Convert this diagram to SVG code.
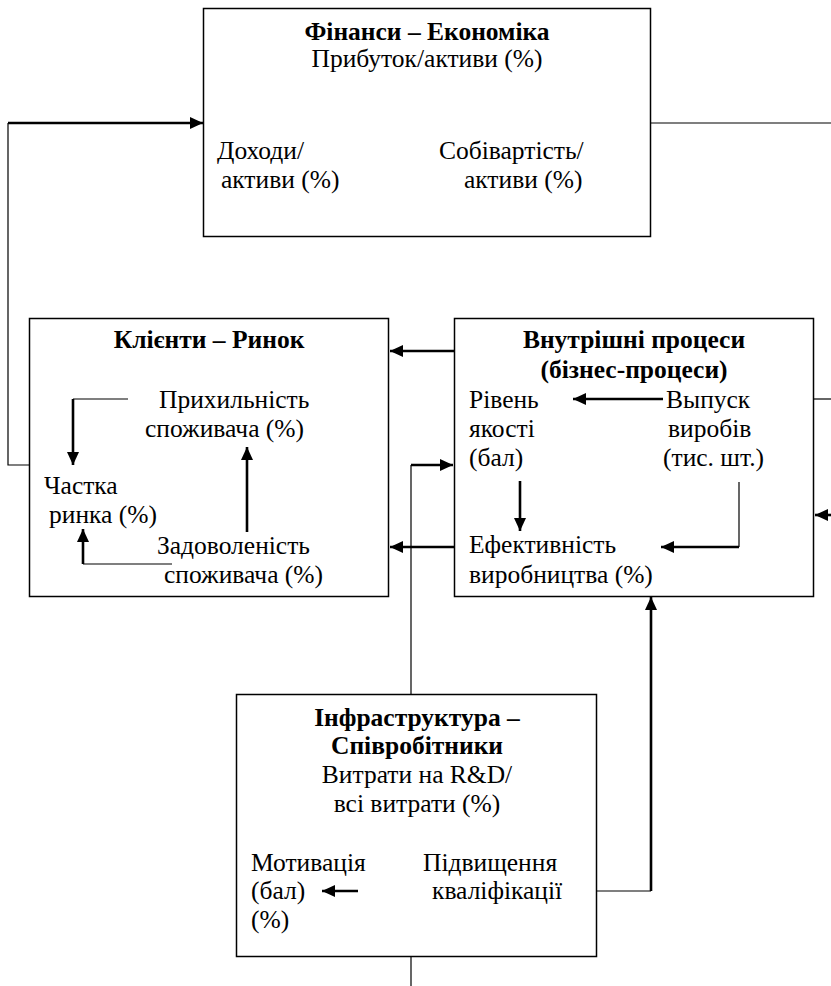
<svg xmlns="http://www.w3.org/2000/svg" width="831" height="986" viewBox="0 0 831 986">
  <style>
    .box { fill: #ffffff; stroke: #000000; stroke-width: 1.5; }
    .t { font-family: "Liberation Serif", "Times New Roman", serif; font-size: 25.5px; fill: #000000; }
    .b { font-weight: bold; }
    .c { text-anchor: middle; }
    .thin { fill: none; stroke: #000000; stroke-width: 1.2; }
    .thick { fill: none; stroke: #000000; stroke-width: 2.6; }
    .arr { marker-end: url(#head); }
  </style>
  <defs>
    <marker id="head" markerUnits="userSpaceOnUse" markerWidth="14" markerHeight="12" refX="13" refY="6" orient="auto">
      <path d="M0,0 L13,6 L0,12 Z" fill="#000000"/>
    </marker>
  </defs>
  <rect width="831" height="986" fill="#ffffff"/>

  <!-- connectors between the blocks -->
  <g id="connectors">
    <path class="thin" d="M29,465 H8 V123"/>
    <path class="thick arr" d="M8,123 H203"/>
    <path class="thin" d="M651,123 H831"/>
    <path class="thin" d="M814,399 H831"/>
    <path class="thick arr" d="M831,515 H815"/>
    <path class="thick arr" d="M454,351 H390"/>
    <path class="thick arr" d="M454,547 H390"/>
    <path class="thin" d="M411,694 V465"/>
    <path class="thick arr" d="M411,465 H453"/>
    <path class="thin" d="M411,956 V986"/>
    <path class="thin" d="M597,891 H651"/>
    <path class="thick arr" d="M651,891 V597"/>
  </g>

  <!-- finance block -->
  <g id="finance">
    <rect class="box" x="203.5" y="8.5" width="447" height="228"/>
    <text class="t b c" x="427" y="40">Фінанси – Економіка</text>
    <text class="t c" x="427" y="67">Прибуток/активи (%)</text>
    <text class="t" x="217" y="159">Доходи/</text>
    <text class="t" x="221" y="188">активи (%)</text>
    <text class="t" x="439" y="159">Собівартість/</text>
    <text class="t" x="464" y="188">активи (%)</text>
  </g>

  <!-- customers block -->
  <g id="customers">
    <rect class="box" x="29.5" y="318.5" width="359" height="278"/>
    <text class="t b c" x="209" y="348">Клієнти – Ринок</text>
    <text class="t" x="159" y="408">Прихильність</text>
    <text class="t" x="145" y="437">споживача (%)</text>
    <text class="t" x="44" y="494">Частка</text>
    <text class="t" x="49" y="523">ринка (%)</text>
    <text class="t" x="157" y="554">Задоволеність</text>
    <text class="t" x="164" y="583">споживача (%)</text>
    <path class="thin" d="M128,399 H73"/>
    <path class="thick arr" d="M73,399 V465"/>
    <path class="thick arr" d="M247,532 V447"/>
    <path class="thin" d="M172,564 H83"/>
    <path class="thick arr" d="M83,564 V529"/>
  </g>

  <!-- internal processes block -->
  <g id="processes">
    <rect class="box" x="454.5" y="318.5" width="359" height="278"/>
    <text class="t b c" x="634" y="348">Внутрішні процеси</text>
    <text class="t b c" x="634" y="378">(бізнес-процеси)</text>
    <text class="t" x="469" y="408">Рівень</text>
    <text class="t" x="469" y="437">якості</text>
    <text class="t" x="469" y="466">(бал)</text>
    <text class="t" x="666" y="408">Выпуск</text>
    <text class="t" x="668" y="437">виробів</text>
    <text class="t" x="663" y="466">(тис. шт.)</text>
    <text class="t" x="469" y="553">Ефективність</text>
    <text class="t" x="469" y="583">виробництва (%)</text>
    <path class="thick arr" d="M663,399 H573"/>
    <path class="thick arr" d="M520,481 V531"/>
    <path class="thin" d="M739,482 V547"/>
    <path class="thick arr" d="M739,547 H661"/>
  </g>

  <!-- infrastructure block -->
  <g id="infrastructure">
    <rect class="box" x="236.5" y="694.5" width="360" height="262"/>
    <text class="t b c" x="417" y="726">Інфраструктура –</text>
    <text class="t b c" x="417" y="754">Співробітники</text>
    <text class="t c" x="417" y="783">Витрати на R&amp;D/</text>
    <text class="t c" x="417" y="812">всі витрати (%)</text>
    <text class="t" x="251" y="871">Мотивація</text>
    <text class="t" x="251" y="899">(бал)</text>
    <text class="t" x="251" y="928">(%)</text>
    <text class="t" x="423" y="871">Підвищення</text>
    <text class="t" x="432" y="899">кваліфікації</text>
    <path class="thick arr" d="M358,891 H322"/>
  </g>
</svg>
